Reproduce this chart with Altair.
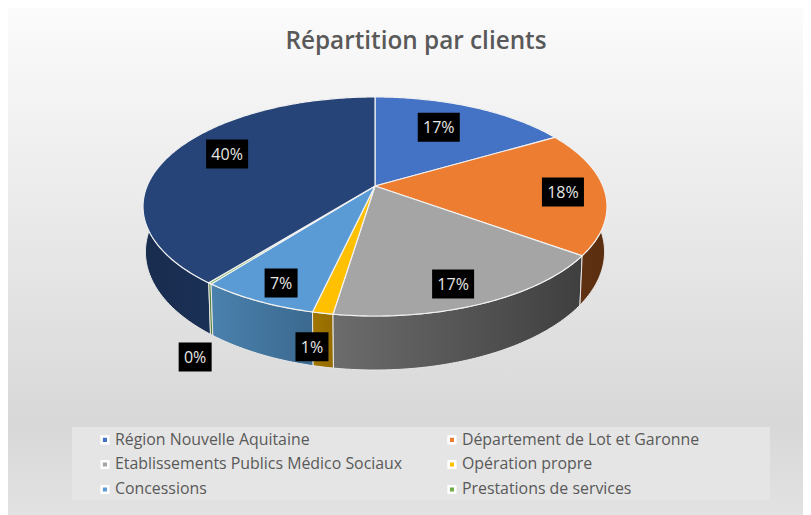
import math
import altair as alt
import pandas as pd

title_text = "Répartition par clients"
names = ["Région Nouvelle Aquitaine", "Département de Lot et Garonne",
         "Etablissements Publics Médico Sociaux", "Opération propre",
         "Concessions", "Prestations de services", "Autres"]
values = [16.6, 18.4, 17.4, 1.2, 6.9, 0.2, 39.3]
label_texts = ["17%", "18%", "17%", "1%", "7%", "0%", "40%"]
top_colors = ["#4472C4", "#ED7D31", "#A5A5A5", "#FFC000", "#5B9BD5", "#70AD47", "#264478"]
wall_left = ["#3c5f9e", "#653514", "#6c6c6c", "#a07500", "#4a81ad", "#5f8f3c", "#182c4e"]
wall_right = ["#2f4f85", "#5a2e10", "#3f3f3f", "#946c00", "#3b698f", "#4f7a32", "#1f3a66"]
label_angle = [26.7, 93.9, 159.7, 190.3, 204.2, 206.0, 295.0]
label_radius = [0.695, 0.818, 0.842, 1.204, 0.858, 1.382, 0.759]
legend_names = names[:6]

W, H = 795, 507
OX, OY = 8, 8
CX, CY, A, B, P = 375 - OX, 186 - OY, 227.9, 105.7, 0.187
BCY, BA, BB = 229.8 - OY, 225.5, 114.0


def project(theta, r=1.0, cy=CY, a=A, b=B):
    t = math.radians(theta)
    u, v = r * math.sin(t), r * math.cos(t)
    w = 1 + P * v
    return CX + a * u / w, cy - b * v / w


def arc(start, end):
    n = max(2, int((end - start) / 0.75) + 1)
    return [start + (end - start) * k / (n - 1) for k in range(n)]


bounds = [0.0]
for val in values:
    bounds.append(bounds[-1] + val * 3.6)

top_rows, wall_rows = [], []
for idx, name in enumerate(names):
    s, e = bounds[idx], bounds[idx + 1]
    pts = [(CX, CY)] + [project(t) for t in arc(s, e)]
    for i, (x, y) in enumerate(pts):
        top_rows.append(dict(name=name, i=i, x=x, y=y))
    tops = [project(t) for t in arc(s, e)]
    bottoms = [project(t, 1.0, BCY, BA, BB) for t in arc(s, e)][::-1]
    for i, (x, y) in enumerate(tops + bottoms):
        wall_rows.append(dict(name=name, i=i, x=x, y=y))
top_df = pd.DataFrame(top_rows)
wall_df = pd.DataFrame(wall_rows)

label_rows = []
for idx, txt in enumerate(label_texts):
    x, y = project(label_angle[idx], label_radius[idx])
    hw = 21 if len(txt) == 3 else 16.5
    label_rows.append(dict(txt=txt, x=x, y=y + 1, x0=x - hw, x1=x + hw, y0=y - 14.5, y1=y + 14.5))
label_df = pd.DataFrame(label_rows)

xs = alt.Scale(domain=[0, W], nice=False, zero=False)
ys = alt.Scale(domain=[H, 0], nice=False, zero=False)
X = alt.X("x:Q", scale=xs, axis=None)
Y = alt.Y("y:Q", scale=ys, axis=None)

bg = alt.Chart(pd.DataFrame({"a": [0]})).mark_rect(
    fill=alt.Gradient(gradient="linear", x1=0, y1=0, x2=0, y2=1, stops=[
        alt.GradientStop(color="#fbfbfb", offset=0),
        alt.GradientStop(color="#d8d8d8", offset=0.82),
        alt.GradientStop(color="#e2e2e2", offset=1),
    ])
).encode(x=alt.value(0), x2=alt.value(W), y=alt.value(0), y2=alt.value(H))

band = alt.Chart(pd.DataFrame({"a": [0]})).mark_rect(fill="#e5e5e5").encode(
    x=alt.value(72 - OX), x2=alt.value(770 - OX), y=alt.value(427 - OY), y2=alt.value(500 - OY))

walls = []
for idx in [6, 5, 4, 3, 2, 1, 0]:
    walls.append(
        alt.Chart(wall_df[wall_df.name == names[idx]]).mark_line(
            interpolate="linear-closed",
            stroke="#e8e8e8", strokeWidth=1,
            fill=alt.Gradient(gradient="linear", x1=0, y1=0, x2=1, y2=0, stops=[
                alt.GradientStop(color=wall_left[idx], offset=0),
                alt.GradientStop(color=wall_right[idx], offset=1),
            ]),
        ).encode(x=X, y=Y, order=alt.Order("i:Q"))
    )

tops_layer = alt.Chart(top_df).mark_line(
    interpolate="linear-closed", stroke="#f2f2f2", strokeWidth=1.2
).encode(
    x=X, y=Y, order=alt.Order("i:Q"), detail="name:N",
    fill=alt.Fill("name:N", scale=alt.Scale(domain=names, range=top_colors), legend=alt.Legend(
        title=None, orient="none", direction="horizontal", legendX=97 - OX, legendY=431.5 - OY, columns=2,
        values=legend_names, symbolType="square", symbolSize=44,
        symbolStrokeColor="white", symbolStrokeWidth=2.5,
        labelFont="Open Sans", labelFontSize=15.9, labelColor="#595959", labelOffset=2,
        labelLimit=320, columnPadding=40, rowPadding=7, gridAlign="all", padding=0,
    )),
)

boxes = alt.Chart(label_df).mark_rect(fill="black").encode(
    x=alt.X("x0:Q", scale=xs, axis=None), x2="x1:Q",
    y=alt.Y("y0:Q", scale=ys, axis=None), y2="y1:Q")
texts = alt.Chart(label_df).mark_text(font="Open Sans", fontSize=16, color="#e6e6e6").encode(x=X, y=Y, text="txt:N")

title = alt.Chart(pd.DataFrame({"t": [title_text]})).mark_text(
    font="Open Sans", fontSize=24.3, fontWeight=600, color="#595959"
).encode(x=alt.value(416 - OX), y=alt.value(42 - OY), text="t:N")

chart = alt.layer(bg, band, *walls, tops_layer, boxes, texts, title).resolve_scale(fill="independent").properties(
    width=W, height=H, padding=0, autosize=alt.AutoSizeParams(type="none")
).configure_view(stroke=None)

chart.save("out.html", embed_options={"renderer": "svg", "actions": False})
